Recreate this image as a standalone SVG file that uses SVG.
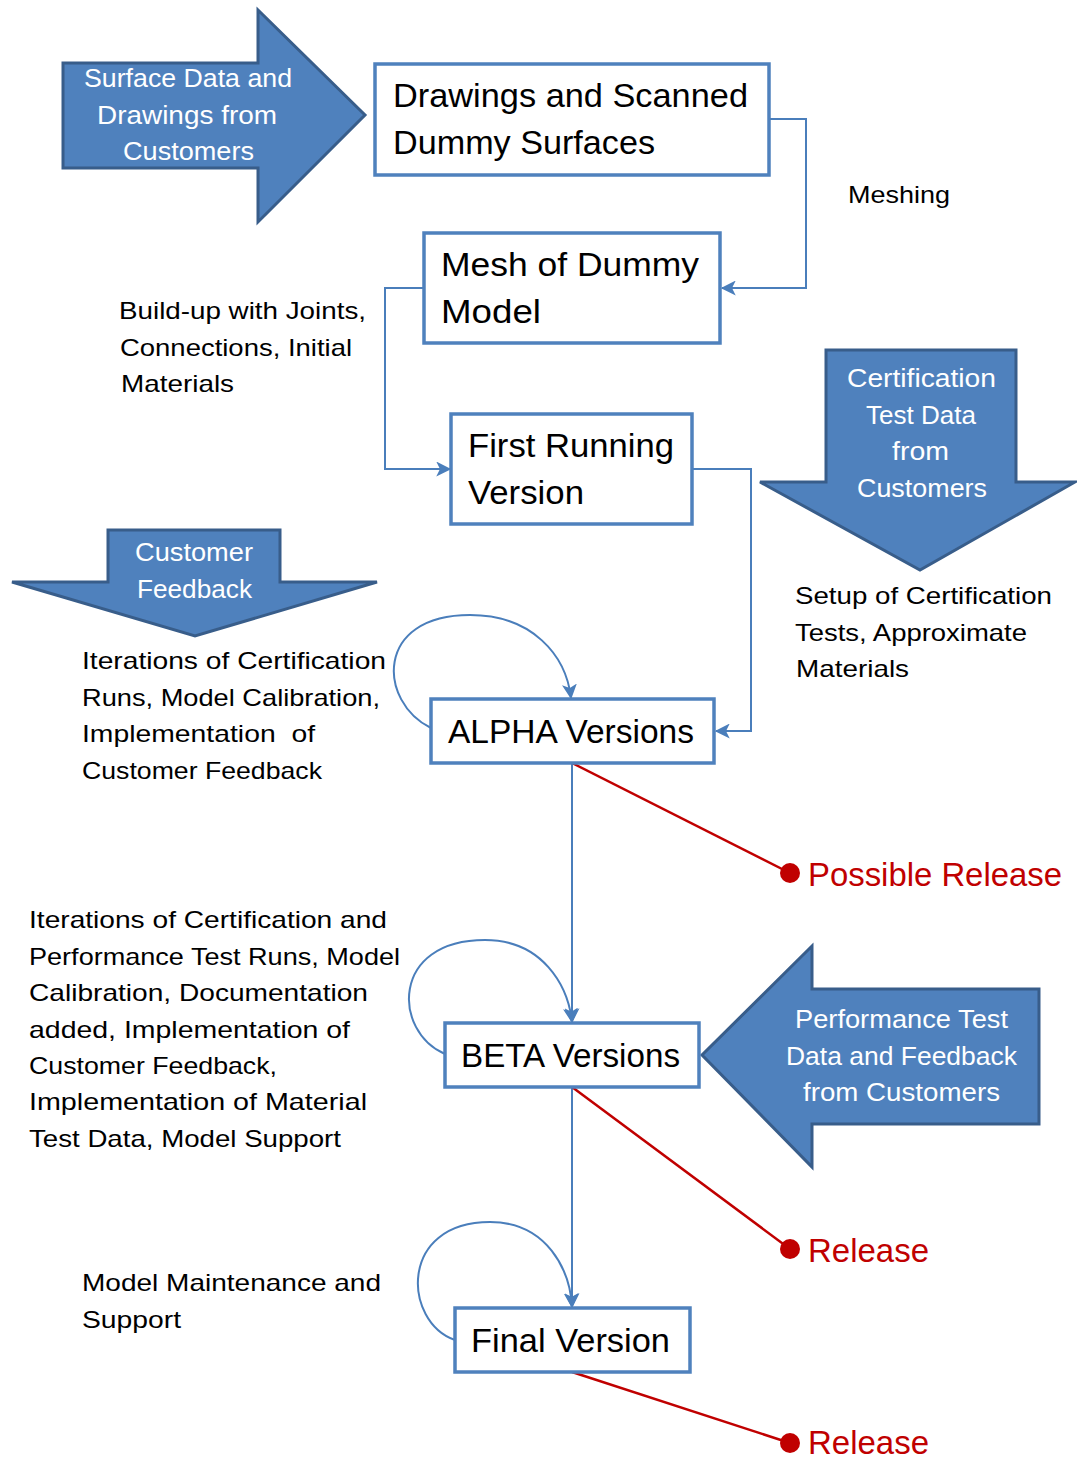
<svg xmlns="http://www.w3.org/2000/svg" width="1077" height="1460" viewBox="0 0 1077 1460">
<defs>
<marker id="ah" viewBox="0 0 12 12" refX="11" refY="6" markerWidth="15" markerHeight="15" markerUnits="userSpaceOnUse" orient="auto">
<path d="M0,0 L12,6 L0,12 L3,6 Z" fill="#4A7EBB"/>
</marker>
<style>
.big{fill:#4F81BD;stroke:#385D8A;stroke-width:3;stroke-linejoin:miter}
.wt{fill:#FFFFFF;font-family:"Liberation Sans",Arial,sans-serif;font-size:25px;text-anchor:start}
.box{fill:#FFFFFF;stroke:#4F81BD;stroke-width:3.5}
.bt{fill:#000000;font-family:"Liberation Sans",Arial,sans-serif;font-size:33px}
.lbl{fill:#000000;font-family:"Liberation Sans",Arial,sans-serif;font-size:24px}
.con{fill:none;stroke:#4A7EBB;stroke-width:2}
.red{fill:none;stroke:#C00000;stroke-width:2.5}
.rt{fill:#C00000;font-family:"Liberation Sans",Arial,sans-serif;font-size:33px}
</style>
</defs>
<rect width="1077" height="1460" fill="#FFFFFF"/>

<g id="arrow-surface">
<path class="big" d="M63,63 L258,63 L258,10 L365,115 L258,222 L258,168 L63,168 Z"/>
<text class="wt" x="84" y="87" textLength="208" lengthAdjust="spacingAndGlyphs">Surface Data and</text>
<text class="wt" x="97" y="124" textLength="180" lengthAdjust="spacingAndGlyphs">Drawings from</text>
<text class="wt" x="123" y="160" textLength="131" lengthAdjust="spacingAndGlyphs">Customers</text>
</g>

<g id="arrow-cert">
<path class="big" d="M826,350 L1016,350 L1016,482 L1075,482 L920,570 L760,482 L826,482 Z"/>
<text class="wt" x="847" y="387" textLength="149" lengthAdjust="spacingAndGlyphs">Certification</text>
<text class="wt" x="866" y="424" textLength="110" lengthAdjust="spacingAndGlyphs">Test Data</text>
<text class="wt" x="892" y="460" textLength="57" lengthAdjust="spacingAndGlyphs">from</text>
<text class="wt" x="857" y="497" textLength="130" lengthAdjust="spacingAndGlyphs">Customers</text>
</g>

<g id="arrow-feedback">
<path class="big" d="M108,530 L280,530 L280,582 L377,582 L195,636 L12,582 L108,582 Z"/>
<text class="wt" x="135" y="561" textLength="118" lengthAdjust="spacingAndGlyphs">Customer</text>
<text class="wt" x="137" y="598" textLength="115" lengthAdjust="spacingAndGlyphs">Feedback</text>
</g>

<g id="arrow-performance">
<path class="big" d="M1039,989 L812,989 L812,946 L702,1055 L812,1167 L812,1124 L1039,1124 Z"/>
<text class="wt" x="795" y="1028" textLength="213" lengthAdjust="spacingAndGlyphs">Performance Test</text>
<text class="wt" x="786" y="1065" textLength="231" lengthAdjust="spacingAndGlyphs">Data and Feedback</text>
<text class="wt" x="803" y="1101" textLength="197" lengthAdjust="spacingAndGlyphs">from Customers</text>
</g>

<g id="connectors">
<path class="con" d="M769,119 L806,119 L806,288 L722,288" marker-end="url(#ah)"/>
<path class="con" d="M424,288 L385,288 L385,469 L450,469" marker-end="url(#ah)"/>
<path class="con" d="M692,469 L751,469 L751,731 L716,731" marker-end="url(#ah)"/>
<path class="con" d="M431,728 C378,702 374,615 470,615 C532,615 566,655 571,698" marker-end="url(#ah)"/>
<path class="con" d="M572,763 L572,1022" marker-end="url(#ah)"/>
<path class="con" d="M445,1054 C393,1032 390,940 485,940 C542,940 568,985 572,1022" marker-end="url(#ah)"/>
<path class="con" d="M572,1087 L572,1307" marker-end="url(#ah)"/>
<path class="con" d="M455,1340 C403,1322 398,1222 490,1222 C547,1222 570,1270 572,1307" marker-end="url(#ah)"/>
<path class="red" d="M572,763 L790,873"/>
<path class="red" d="M572,1087 L790,1249"/>
<path class="red" d="M572,1372 L790,1443"/>
<circle cx="790" cy="873" r="10" fill="#C00000"/>
<circle cx="790" cy="1249" r="10" fill="#C00000"/>
<circle cx="790" cy="1443" r="10" fill="#C00000"/>
</g>

<g id="node-drawings">
<rect class="box" x="375" y="64" width="394" height="111"/>
<text class="bt" x="393" y="107" textLength="355" lengthAdjust="spacingAndGlyphs">Drawings and Scanned</text>
<text class="bt" x="393" y="154" textLength="262" lengthAdjust="spacingAndGlyphs">Dummy Surfaces</text>
</g>

<g id="node-mesh">
<rect class="box" x="424" y="233" width="296" height="110"/>
<text class="bt" x="441" y="276" textLength="258" lengthAdjust="spacingAndGlyphs">Mesh of Dummy</text>
<text class="bt" x="441" y="323" textLength="100" lengthAdjust="spacingAndGlyphs">Model</text>
</g>

<g id="node-first">
<rect class="box" x="451" y="414" width="241" height="110"/>
<text class="bt" x="468" y="457" textLength="206" lengthAdjust="spacingAndGlyphs">First Running</text>
<text class="bt" x="468" y="504" textLength="116" lengthAdjust="spacingAndGlyphs">Version</text>
</g>

<g id="node-alpha">
<rect class="box" x="431" y="699" width="283" height="64"/>
<text class="bt" x="448" y="743" textLength="246" lengthAdjust="spacingAndGlyphs">ALPHA Versions</text>
</g>

<g id="node-beta">
<rect class="box" x="445" y="1023" width="254" height="64"/>
<text class="bt" x="461" y="1067" textLength="219" lengthAdjust="spacingAndGlyphs">BETA Versions</text>
</g>

<g id="node-final">
<rect class="box" x="455" y="1308" width="235" height="64"/>
<text class="bt" x="471" y="1352" textLength="199" lengthAdjust="spacingAndGlyphs">Final Version</text>
</g>

<g id="labels">
<text class="lbl" x="848" y="203" textLength="102" lengthAdjust="spacingAndGlyphs">Meshing</text>
<text class="lbl" x="119" y="319" textLength="247" lengthAdjust="spacingAndGlyphs">Build-up with Joints,</text>
<text class="lbl" x="120" y="356" textLength="232" lengthAdjust="spacingAndGlyphs">Connections, Initial</text>
<text class="lbl" x="121" y="392" textLength="113" lengthAdjust="spacingAndGlyphs">Materials</text>
<text class="lbl" x="795" y="604" textLength="257" lengthAdjust="spacingAndGlyphs">Setup of Certification</text>
<text class="lbl" x="795" y="641" textLength="232" lengthAdjust="spacingAndGlyphs">Tests, Approximate</text>
<text class="lbl" x="796" y="677" textLength="113" lengthAdjust="spacingAndGlyphs">Materials</text>
<text class="lbl" x="82" y="669" textLength="304" lengthAdjust="spacingAndGlyphs">Iterations of Certification</text>
<text class="lbl" x="82" y="706" textLength="298" lengthAdjust="spacingAndGlyphs">Runs, Model Calibration,</text>
<text class="lbl" x="82" y="742" textLength="233" lengthAdjust="spacingAndGlyphs" xml:space="preserve">Implementation  of</text>
<text class="lbl" x="82" y="779" textLength="240" lengthAdjust="spacingAndGlyphs">Customer Feedback</text>
<text class="lbl" x="29" y="928" textLength="358" lengthAdjust="spacingAndGlyphs">Iterations of Certification and</text>
<text class="lbl" x="29" y="965" textLength="371" lengthAdjust="spacingAndGlyphs">Performance Test Runs, Model</text>
<text class="lbl" x="29" y="1001" textLength="339" lengthAdjust="spacingAndGlyphs">Calibration, Documentation</text>
<text class="lbl" x="29" y="1038" textLength="321" lengthAdjust="spacingAndGlyphs">added, Implementation of</text>
<text class="lbl" x="29" y="1074" textLength="248" lengthAdjust="spacingAndGlyphs">Customer Feedback,</text>
<text class="lbl" x="29" y="1110" textLength="338" lengthAdjust="spacingAndGlyphs">Implementation of Material</text>
<text class="lbl" x="29" y="1147" textLength="312" lengthAdjust="spacingAndGlyphs">Test Data, Model Support</text>
<text class="lbl" x="82" y="1291" textLength="299" lengthAdjust="spacingAndGlyphs">Model Maintenance and</text>
<text class="lbl" x="82" y="1328" textLength="99" lengthAdjust="spacingAndGlyphs">Support</text>
<text class="rt" x="808" y="886" textLength="254" lengthAdjust="spacingAndGlyphs">Possible Release</text>
<text class="rt" x="808" y="1262" textLength="121" lengthAdjust="spacingAndGlyphs">Release</text>
<text class="rt" x="808" y="1454" textLength="121" lengthAdjust="spacingAndGlyphs">Release</text>
</g>
</svg>
